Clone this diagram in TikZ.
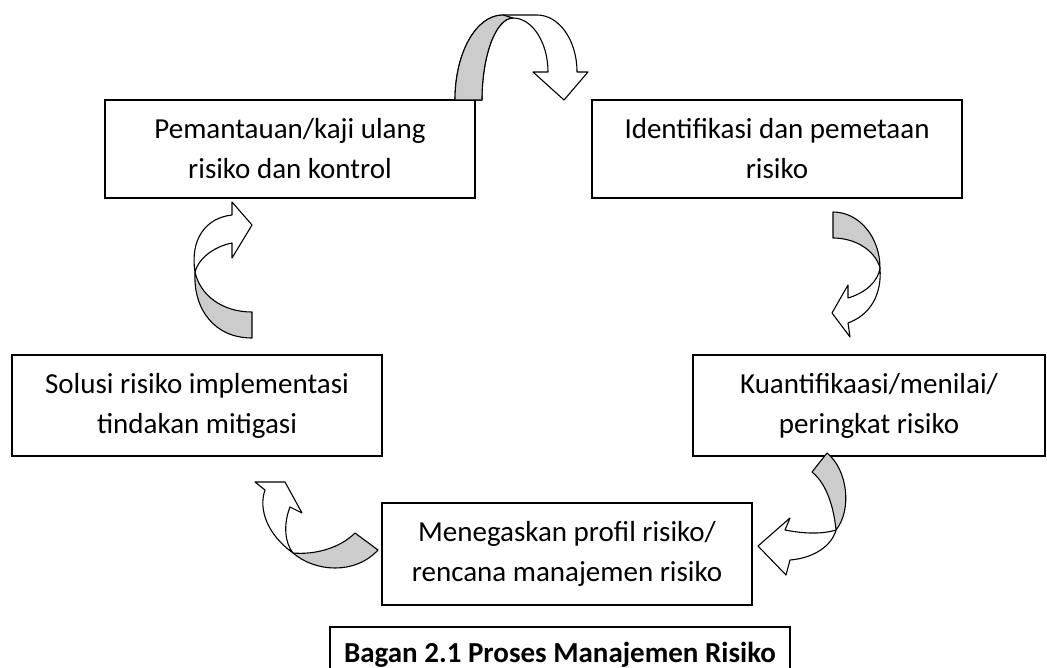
\documentclass[tikz,border=0pt]{standalone}
\usepackage{fontspec}
\setmainfont{Carlito}
\begin{document}
\begin{tikzpicture}[x=1pt,y=-1pt,
    box/.style={draw,line width=1.3pt,minimum width=370pt,minimum height=98pt,
      inner sep=0pt,align=center,font=\fontsize{29}{40}\selectfont},
    bandwhite/.style={draw,fill=white,line width=1.1pt,line join=round},
    bandgray/.style={draw,fill=gray!40,line width=1.1pt,line join=round}]
    \useasboundingbox (0,0) rectangle (1047,668);
    % the five steps
    \node[box] (pantau) at (290,149) {Pemantauan/kaji ulang\\risiko dan kontrol};
    \node[box] (ident) at (777,149) {Identifikasi dan pemetaan\\risiko};
    \node[box,minimum width=352pt,minimum height=101pt] (kuant) at (869,405.5) {Kuantifikaasi/menilai/\\peringkat risiko};
    \node[box,minimum height=101pt] (solusi) at (197,405.5) {Solusi risiko implementasi\\tindakan mitigasi};
    \node[box,minimum height=102pt] (tegas) at (567,554) {Menegaskan profil risiko/\\rencana manajemen risiko};
    % caption
    \draw[line width=1.3pt] (330,700) -- (330,627) coordinate (capa) -- (790,627) -- (790,700);
    \node[anchor=base,font=\fontsize{29}{40}\selectfont\bfseries] (cap) at (560,662) {Bagan 2.1 Proses Manajemen Risiko};
    % top arrow
    \draw[bandwhite] (455,100) .. controls (455,53) and (476,15) .. (503,15) -- (537,15)
        .. controls (559,15) and (577,40) .. (577,72) -- (588,72) -- (564,100) -- (533,72) -- (548,72)
        .. controls (548,42) and (532,18) .. (513,18) .. controls (496,18) and (482,55) .. (482,100) -- cycle;
    \draw[bandgray] (455,100) .. controls (455,53) and (476,15) .. (503,15) -- (513,18)
        .. controls (496,18) and (482,55) .. (482,100) -- cycle;
    % right arrow
    \draw[bandwhite] (880,268) .. controls (882,295) and (870,315) .. (848,323) -- (850,337) -- (832,313)
        -- (848,285) -- (848,298) .. controls (865,293) and (878,282) .. (880,268) -- cycle;
    \draw[bandgray] (833,212) .. controls (859,212) and (880,237) .. (880,268)
        .. controls (875,250) and (855,238) .. (833,238) -- cycle;
    % bottom right arrow
    \draw[bandwhite] (836,530) .. controls (832,545) and (815,558) .. (790,560) -- (786,575) -- (758,546)
        -- (790,518) -- (785,530) .. controls (800,533) and (820,535) .. (836,530) -- cycle;
    \draw[bandgray] (827,453) .. controls (848,470) and (852,510) .. (836,530)
        .. controls (834,510) and (828,485) .. (812,472) -- cycle;
    % bottom left arrow
    \draw[bandwhite] (293,553) .. controls (268,535) and (258,510) .. (265,490) -- (255,482) -- (285,482)
        -- (302,513) -- (290,507) .. controls (283,525) and (285,543) .. (293,553) -- cycle;
    \draw[bandgray] (293,553) .. controls (315,555) and (340,548) .. (355,533) -- (378,550)
        .. controls (355,575) and (315,572) .. (293,553) -- cycle;
    % left arrow
    \draw[bandwhite] (195,272) .. controls (190,240) and (205,218) .. (232,215) -- (232,202) -- (252,225)
        -- (232,258) -- (232,243) .. controls (212,247) and (198,260) .. (195,272) -- cycle;
    \draw[bandgray] (195,272) .. controls (193,310) and (215,338) .. (252,338) -- (252,312)
        .. controls (222,312) and (200,295) .. (195,272) -- cycle;
\end{tikzpicture}
\end{document}
